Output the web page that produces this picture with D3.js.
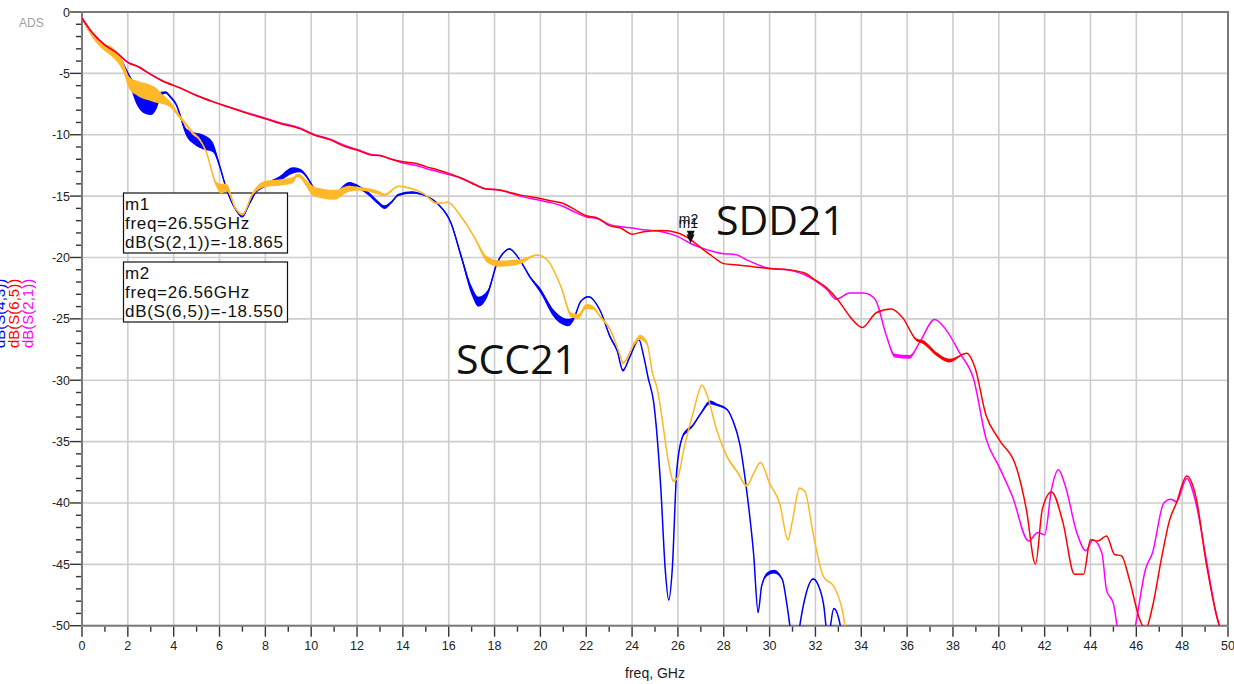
<!DOCTYPE html>
<html>
<head>
<meta charset="utf-8">
<script src="https://cdn.jsdelivr.net/npm/d3@7"></script>
<style>
  body { margin: 0; background: white; }
  svg { display: block; }
</style>
</head>
<body>
<div id="chart"></div>
<script>
// traces: [freq GHz, dB, ripple band width dB]
const scc21_a = [
  [0, -0.5, 0.2], [0.5, -2.0, 0.3], [1.0, -2.9, 0.4], [1.35, -3.3, 0.5], [1.78, -4.3, 0.6],
  [2.07, -5.5, 0.8], [2.4, -6.8, 1.6], [2.75, -7.4, 1.8], [3.0, -7.6, 1.6], [3.25, -7.4, 1.0],
  [3.45, -6.7, 0.4], [3.65, -6.55, 0.2], [3.85, -6.9, 0.2], [4.1, -7.5, 0.2], [4.55, -9.8, 0.6],
  [4.9, -10.3, 1.0], [5.3, -10.6, 1.2], [5.7, -11.0, 0.8], [6.0, -12.5, 0.3], [6.3, -14.4, 0.2],
  [6.65, -15.9, 0.2], [7.0, -16.6, 0.3], [7.3, -15.6, 0.3], [7.6, -14.6, 0.3], [8.0, -14.1, 0.3],
  [8.6, -13.6, 0.4], [9.2, -12.9, 0.5], [9.5, -12.9, 0.3], [9.8, -13.4, 0.2], [10.1, -14.3, 0.2],
  [10.5, -14.7, 0.2], [11.0, -14.8, 0.2], [11.65, -14.0, 0.3], [12.1, -14.3, 0.3], [12.5, -14.8, 0.3],
  [12.9, -15.5, 0.3], [13.2, -15.9, 0.3], [13.5, -15.5, 0.2], [13.8, -14.9, 0.2], [14.4, -14.7, 0.2],
  [14.9, -14.9, 0.1], [15.5, -15.6, 0.1], [16.1, -17.2, 0.2], [16.55, -19.95, 0.4], [17.0, -22.7, 0.7],
  [17.3, -23.6, 0.8], [17.7, -22.9, 0.5], [18.1, -20.5, 0.2], [18.4, -19.6, 0.1], [18.65, -19.3, 0.1],
  [19.1, -20.2, 0.1], [19.55, -21.6, 0.2], [20.0, -22.7, 0.4], [20.6, -24.6, 0.6], [21.2, -25.3, 0.6],
  [21.45, -25.0, 0.3], [21.75, -23.6, 0.1], [22.1, -23.2, 0.1], [22.6, -24.3, 0.1], [23.05, -26.5, 0.2],
  [23.35, -27.6, 0.2], [23.6, -29.2, 0.2], [23.9, -28.1, 0.1], [24.3, -26.7, 0.1], [24.5, -28.0, 0.1],
  [24.7, -29.8, 0.1], [24.95, -31.9, 0.1], [25.25, -38.7, 0.1], [25.45, -45.5, 0.1], [25.6, -47.9, 0.1],
  [25.75, -45.5, 0.1], [25.95, -37.3, 0.1], [26.2, -34.6, 0.2], [26.4, -34.1, 0.3], [26.6, -33.8, 0.2],
  [27.0, -32.7, 0.2], [27.4, -31.8, 0.3], [27.7, -32.0, 0.2], [28.15, -32.4, 0.1], [28.4, -33.3, 0.1],
  [28.7, -35.2, 0.1], [29.0, -39.0, 0.1], [29.3, -44.1, 0.1], [29.5, -48.9, 0.2], [29.65, -46.8, 0.1],
  [29.9, -45.8, 0.3], [30.2, -45.6, 0.3], [30.55, -46.2, 0.1], [30.75, -48.2, 0.1], [30.9, -50.2, 0.1],
  [31.1, -53, 0.1], [31.3, -50.2, 0.1], [31.55, -47.7, 0.1], [31.9, -46.2, 0.1], [32.1, -46.6, 0.1],
  [32.35, -48.2, 0.1], [32.55, -51, 0.1], [32.8, -48.6, 0.1], [33.0, -49.3, 0.1], [33.1, -50.2, 0.1],
  [33.3, -55, 0.1]
];

const scc21_b = [
  [0, -0.5, 0.2], [0.5, -2.0, 0.4], [1.0, -2.9, 0.6], [1.35, -3.3, 0.8], [1.78, -4.4, 0.8],
  [2.07, -5.8, 1.0], [2.4, -6.2, 1.2], [2.65, -6.4, 1.3], [3.0, -6.6, 1.3], [3.24, -6.8, 1.2],
  [3.5, -7.1, 0.8], [3.8, -7.45, 0.5], [4.25, -8.5, 0.3], [4.55, -9.2, 0.3], [4.85, -9.9, 0.3],
  [5.1, -10.3, 0.2], [5.4, -11.3, 0.2], [5.85, -14.0, 0.4], [6.07, -14.4, 0.8], [6.3, -14.3, 0.6],
  [6.7, -16.0, 0.2], [7.0, -16.5, 0.2], [7.45, -14.8, 0.3], [8.0, -14.0, 0.5], [8.6, -13.9, 0.5],
  [9.2, -13.7, 0.5], [9.4, -13.3, 0.3], [10.1, -14.6, 0.8], [10.5, -14.8, 0.8], [11.0, -14.9, 0.8],
  [11.65, -14.4, 0.5], [12.1, -14.4, 0.3], [12.5, -14.5, 0.3], [12.9, -14.7, 0.3], [13.2, -14.9, 0.2],
  [13.8, -14.2, 0.1], [14.4, -14.4, 0.1], [14.9, -14.8, 0.1], [15.5, -15.6, 0.1], [15.95, -15.5, 0.1],
  [16.55, -16.7, 0.1], [17.1, -18.3, 0.2], [17.7, -20.2, 0.5], [18.2, -20.5, 0.5], [19.1, -20.35, 0.4],
  [19.85, -19.8, 0.1], [20.3, -20.2, 0.1], [20.9, -22.4, 0.2], [21.35, -24.7, 0.4], [21.65, -24.8, 0.4],
  [22.0, -24.0, 0.4], [22.3, -24.1, 0.3], [22.6, -24.8, 0.2], [23.05, -25.9, 0.2], [23.5, -28.1, 0.2],
  [23.6, -28.6, 0.2], [24.1, -27.0, 0.3], [24.35, -26.5, 0.4], [24.65, -27.0, 0.3], [24.9, -29.5, 0.2],
  [25.1, -30.7, 0.2], [25.3, -33.0, 0.1], [25.6, -36.8, 0.1], [25.8, -38.2, 0.2], [26.0, -37.9, 0.1],
  [26.25, -35.7, 0.1], [26.7, -32.4, 0.1], [27.05, -30.4, 0.1], [27.25, -31.1, 0.1], [27.7, -34.1, 0.1],
  [28.15, -36.25, 0.2], [28.6, -37.5, 0.2], [29.0, -38.6, 0.2], [29.3, -37.6, 0.1], [29.6, -36.7, 0.1],
  [30.0, -38.4, 0.1], [30.45, -40.1, 0.1], [30.8, -43.0, 0.1], [31.0, -41.4, 0.1], [31.3, -38.8, 0.1],
  [31.55, -39.1, 0.1], [31.9, -42.5, 0.1], [32.35, -46.0, 0.1], [32.8, -46.8, 0.1], [33.1, -48.2, 0.1],
  [33.3, -50.2, 0.1], [33.5, -55, 0.1]
];

const sdd21_65 = [
  [0, -0.5, 0], [0.5, -1.8, 0], [1.0, -2.7, 0], [1.5, -3.3, 0], [2.0, -4.1, 0], [2.5, -4.5, 0],
  [2.8, -4.86, 0], [3.5, -5.6, 0], [4.3, -6.2, 0], [5.0, -6.8, 0], [5.7, -7.3, 0], [6.5, -7.8, 0],
  [7.2, -8.26, 0], [8.0, -8.7, 0], [8.6, -9.07, 0], [9.5, -9.5, 0], [10.1, -10.0, 0], [10.8, -10.4, 0],
  [11.5, -10.98, 0], [12.0, -11.25, 0], [12.6, -11.65, 0], [13.0, -11.7, 0], [13.5, -12.0, 0],
  [14.0, -12.2, 0], [14.6, -12.35, 0], [15.0, -12.6, 0], [15.5, -12.85, 0], [16.0, -13.15, 0],
  [16.5, -13.5, 0], [17.0, -13.95, 0], [17.6, -14.4, 0], [18.2, -14.5, 0], [19.1, -14.9, 0],
  [20.0, -15.2, 0], [20.5, -15.4, 0], [21.0, -15.6, 0], [21.5, -16.1, 0], [22.0, -16.6, 0],
  [22.5, -16.8, 0], [23.0, -17.4, 0], [23.5, -17.6, 0], [24.0, -18.1, 0], [24.5, -17.9, 0],
  [25.3, -17.8, 0], [26.0, -18.0, 0], [26.56, -18.55, 0], [27.0, -19.2, 0], [27.5, -19.9, 0],
  [28.0, -20.5, 0], [28.5, -20.6, 0], [29.0, -20.7, 0], [30.0, -20.9, 0], [30.8, -21.0, 0],
  [31.5, -21.25, 0], [32.0, -21.85, 0], [32.5, -22.5, 0], [33.0, -23.5, 0], [33.5, -24.8, 0],
  [34.05, -25.7, 0], [34.65, -24.5, 0], [35.3, -24.2, 0], [35.8, -24.9, 0], [36.4, -26.7, 0.2],
  [36.7, -26.9, 0.3], [37.3, -27.9, 0.3], [37.85, -28.4, 0.3], [38.6, -27.8, 0], [38.95, -28.9, 0],
  [39.45, -32.9, 0], [40.0, -34.8, 0], [40.8, -37.3, 0], [41.2, -40.5, 0], [41.6, -45.0, 0],
  [41.9, -40.5, 0], [42.3, -39.1, 0], [42.8, -41.6, 0], [43.3, -45.8, 0], [43.7, -45.8, 0],
  [44.0, -43.0, 0], [44.3, -43.1, 0], [44.7, -42.7, 0], [45.05, -44.2, 0], [45.35, -44.3, 0],
  [45.7, -46.25, 0], [46.15, -49.5, 0], [46.4, -50.3, 0], [46.7, -48.5, 0], [47.1, -44.5, 0],
  [47.45, -41.4, 0], [47.75, -40.0, 0], [48.2, -37.8, 0], [48.6, -39.5, 0], [49.05, -44.9, 0],
  [49.55, -49.5, 0], [49.8, -51, 0]
];

const sdd21_21 = [
  [0, -0.5, 0], [0.5, -1.8, 0], [1.0, -2.7, 0], [1.5, -3.3, 0], [2.0, -4.1, 0], [2.5, -4.5, 0],
  [2.8, -4.86, 0], [3.5, -5.6, 0], [4.3, -6.2, 0], [5.0, -6.8, 0], [5.7, -7.3, 0], [6.5, -7.8, 0],
  [7.2, -8.2, 0], [8.0, -8.65, 0], [8.6, -9.0, 0], [9.5, -9.45, 0], [10.1, -9.95, 0], [10.8, -10.35, 0],
  [11.5, -10.9, 0], [12.0, -11.2, 0], [12.6, -11.6, 0], [13.0, -11.7, 0], [13.5, -12.0, 0],
  [14.0, -12.3, 0], [14.6, -12.5, 0], [15.0, -12.75, 0], [15.5, -13.0, 0], [16.0, -13.25, 0],
  [16.5, -13.5, 0], [17.0, -13.9, 0], [17.6, -14.4, 0], [18.2, -14.5, 0], [19.1, -15.0, 0],
  [20.0, -15.35, 0], [20.5, -15.55, 0], [21.0, -15.85, 0], [21.5, -16.3, 0], [22.0, -16.7, 0],
  [22.5, -16.85, 0], [23.0, -17.3, 0], [23.5, -17.5, 0], [24.0, -17.6, 0], [24.5, -17.75, 0],
  [25.3, -17.9, 0], [26.0, -18.3, 0], [26.55, -18.865, 0], [27.0, -19.2, 0], [27.5, -19.5, 0],
  [28.0, -19.7, 0], [28.5, -19.75, 0], [29.0, -20.2, 0], [29.5, -20.6, 0], [30.0, -20.9, 0],
  [30.8, -21.0, 0], [31.5, -21.4, 0], [32.0, -21.9, 0], [32.5, -22.6, 0], [32.9, -23.4, 0],
  [33.5, -22.9, 0], [34.1, -22.9, 0], [34.6, -23.4, 0], [35.1, -26.4, 0], [35.45, -28.0, 0.3],
  [36.1, -28.1, 0.3], [36.55, -26.9, 0], [37.2, -25.05, 0], [37.7, -25.9, 0], [38.3, -27.8, 0],
  [38.9, -29.9, 0], [39.45, -34.8, 0], [40.0, -37.0, 0], [40.6, -39.5, 0], [41.3, -43.1, 0],
  [41.7, -42.4, 0], [42.0, -42.6, 0], [42.3, -38.9, 0], [42.6, -37.3, 0], [42.9, -38.6, 0],
  [43.4, -42.4, 0], [43.8, -43.9, 0], [44.1, -43.0, 0], [44.5, -44.1, 0], [44.7, -47.1, 0],
  [45.0, -48.2, 0], [45.2, -50.5, 0], [45.55, -54, 0], [46.0, -49.6, 0], [46.4, -45.4, 0],
  [46.7, -44.1, 0], [47.2, -40.0, 0], [47.5, -39.7, 0], [47.75, -39.9, 0], [48.2, -38.0, 0],
  [48.6, -40.0, 0], [49.05, -44.6, 0], [49.5, -49.2, 0], [49.8, -51, 0]
];

// drawing order follows the ADS trace list
const traces = [
  { name: "dB(S(4,3))", color: "#0000ff", data: scc21_a },
  { name: "dB(S(8,7))", color: "#ffb928", data: scc21_b },
  { name: "dB(S(2,1))", color: "#ff00ff", data: sdd21_21 },
  { name: "dB(S(6,5))", color: "#ff0000", data: sdd21_65 },
];
// rotated y labels, left to right (first one is off the picture)
const yLabels = [
  { text: "dB(S(8,7))", color: "#ffb928" },
  { text: "dB(S(4,3))", color: "#0000ff" },
  { text: "dB(S(6,5))", color: "#ff0000" },
  { text: "dB(S(2,1))", color: "#ff00ff" },
];

const xTicks = d3.range(0, 51, 2);
const yTicks = d3.range(0, -51, -5);

const markers = [
  { name: "m2", freq: 26.56, value: -18.55, label: ["m2", "freq=26.56GHz", "dB(S(6,5))=-18.550"] },
  { name: "m1", freq: 26.55, value: -18.865, label: ["m1", "freq=26.55GHz", "dB(S(2,1))=-18.865"] },
];

const width = 1234;
const height = 684;
const margin = { top: 12, right: 6, bottom: 58, left: 82 };
const FONT = "'Liberation Sans', Arial, sans-serif";

const svg = d3
  .select("#chart")
  .append("svg")
  .attr("width", width)
  .attr("height", height)
  .style("background-color", "white");

const x = d3.scaleLinear().domain([0, 50]).range([margin.left, width - margin.right]);
const y = d3.scaleLinear().domain([0, -50]).range([margin.top, height - margin.bottom - 0.3]);

// grid
const grid = svg.append("g");
grid
  .selectAll(".vgrid")
  .data(xTicks)
  .enter()
  .append("line")
  .attr("x1", (d) => x(d))
  .attr("x2", (d) => x(d))
  .attr("y1", y(0))
  .attr("y2", y(-50))
  .attr("stroke", "#cdcdcd")
  .attr("stroke-width", 1.6);
grid
  .selectAll(".hgrid")
  .data(yTicks)
  .enter()
  .append("line")
  .attr("x1", x(0))
  .attr("x2", x(50))
  .attr("y1", (d) => y(d))
  .attr("y2", (d) => y(d))
  .attr("stroke", "#cdcdcd")
  .attr("stroke-width", 1.6);

// frame
svg
  .append("rect")
  .attr("x", x(0))
  .attr("y", y(0))
  .attr("width", x(50) - x(0))
  .attr("height", y(-50) - y(0))
  .attr("fill", "none")
  .attr("stroke", "#7a7a7a")
  .attr("stroke-width", 2);

// marker readout boxes (white, traces pass over them)
const boxes = svg.append("g");
markers
  .slice()
  .reverse()
  .forEach((m, i) => {
    const top = 193 + i * 69;
    boxes
      .append("rect")
      .attr("x", 123.5)
      .attr("y", top)
      .attr("width", 164)
      .attr("height", 60)
      .attr("fill", "white")
      .attr("stroke", "#111")
      .attr("stroke-width", 1.2);
    m.label.forEach((t, j) => {
      boxes
        .append("text")
        .attr("x", 125)
        .attr("y", top + 17 + j * 19)
        .attr("font-family", FONT)
        .attr("font-size", 17)
        .attr("letter-spacing", 0.7)
        .attr("fill", "#111")
        .text(t);
    });
  });

// traces
svg
  .append("clipPath")
  .attr("id", "plotclip")
  .append("rect")
  .attr("x", x(0))
  .attr("y", y(0))
  .attr("width", x(50) - x(0))
  .attr("height", y(-50) - y(0));

const plot = svg.append("g").attr("clip-path", "url(#plotclip)");

const band = d3
  .area()
  .curve(d3.curveMonotoneX)
  .x((d) => x(d[0]))
  .y0((d) => y(d[1] - d[2] / 2))
  .y1((d) => y(d[1] + d[2] / 2));

const line = d3
  .line()
  .curve(d3.curveMonotoneX)
  .x((d) => x(d[0]))
  .y((d) => y(d[1]));

traces.forEach((tr) => {
  plot
    .append("path")
    .attr("d", band(tr.data))
    .attr("fill", tr.color)
    .attr("stroke", "none");
  plot
    .append("path")
    .attr("d", line(tr.data))
    .attr("fill", "none")
    .attr("stroke", tr.color)
    .attr("stroke-width", 1.5);
});

// axes ticks
const axes = svg.append("g").attr("stroke", "#333").attr("stroke-width", 1.4);
d3.range(0, 51, 1).forEach((v) => {
  axes
    .append("line")
    .attr("x1", x(v))
    .attr("x2", x(v))
    .attr("y1", y(-50) + 1)
    .attr("y2", y(-50) + (v % 2 == 0 ? 11 : 6));
});
d3.range(0, -51, -1).forEach((v) => {
  axes
    .append("line")
    .attr("x1", x(0) - 1)
    .attr("x2", x(0) - (v % 5 == 0 ? 12 : 6))
    .attr("y1", y(v))
    .attr("y2", y(v));
});

svg
  .selectAll(".xlab")
  .data(xTicks)
  .enter()
  .append("text")
  .attr("x", (d) => x(d))
  .attr("y", 650)
  .attr("text-anchor", "middle")
  .attr("font-family", FONT)
  .attr("font-size", 12.5)
  .attr("fill", "#222")
  .text((d) => d);

svg
  .selectAll(".ylab")
  .data(yTicks)
  .enter()
  .append("text")
  .attr("x", 70)
  .attr("y", (d) => y(d) + 4.5)
  .attr("text-anchor", "end")
  .attr("font-family", FONT)
  .attr("font-size", 12.5)
  .attr("fill", "#222")
  .text((d) => d);

svg
  .append("text")
  .attr("x", 655)
  .attr("y", 678)
  .attr("text-anchor", "middle")
  .attr("font-family", FONT)
  .attr("font-size", 14)
  .attr("fill", "#222")
  .text("freq, GHz");

// rotated trace names at the left edge
yLabels.forEach((lab, i) => {
  svg
    .append("text")
    .attr("transform", `translate(${-9 + i * 14},348) rotate(-90)`)
    .attr("font-family", FONT)
    .attr("font-size", 15)
    .attr("fill", lab.color)
    .text(lab.text);
});

svg
  .append("text")
  .attr("x", 19)
  .attr("y", 27)
  .attr("font-family", FONT)
  .attr("font-size", 12)
  .attr("fill", "#a0a0a0")
  .text("ADS");

// markers on the traces
markers.forEach((m) => {
  const px = x(m.freq);
  const py = y(m.value);
  svg
    .append("path")
    .attr("d", `M${px - 4},${py - 9}L${px + 4},${py - 9}L${px},${py}Z`)
    .attr("fill", "#111");
  svg
    .append("text")
    .attr("x", px - 12)
    .attr("y", py - 16)
    .attr("font-family", FONT)
    .attr("font-size", 14)
    .attr("fill", "#111")
    .text(m.name);
});

// big annotations
svg
  .append("text")
  .attr("x", 716)
  .attr("y", 235)
  .attr("font-family", "'Open Sans', sans-serif")
  .attr("font-size", 41)
  .attr("fill", "#111")
  .text("SDD21");
svg
  .append("text")
  .attr("x", 456)
  .attr("y", 374)
  .attr("font-family", "'Open Sans', sans-serif")
  .attr("font-size", 41)
  .attr("fill", "#111")
  .text("SCC21");
</script>
</body>
</html>
